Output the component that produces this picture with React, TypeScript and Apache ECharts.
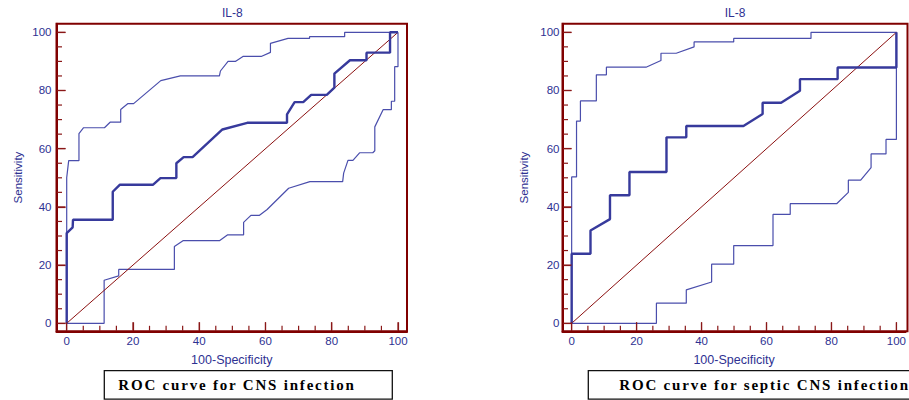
import React, { useEffect, useRef } from "react";
import * as echarts from "echarts";

// ---------- data ----------
const chartTitle = "IL-8";
const xAxisName = "100-Specificity";
const yAxisName = "Sensitivity";
const captions = ["ROC curve for CNS infection", "ROC curve for septic CNS infection"];
const majorTicks = [0, 20, 40, 60, 80, 100];
const minorTicks = [0, 5, 10, 15, 20, 25, 30, 35, 40, 45, 50, 55, 60, 65, 70, 75, 80, 85, 90, 95, 100];

const cnsRoc: number[][] = [
  [0, 0], [0, 31], [1.8, 33], [1.9, 35.6], [13.9, 35.6], [13.9, 45.2], [16, 47.6], [26, 47.6],
  [28.3, 49.9], [33.1, 49.9], [33.1, 55], [35.3, 57.1], [38, 57.1], [47, 66.6], [54.5, 68.9],
  [66.5, 68.9], [66.5, 71.8], [68.8, 76], [71.4, 76], [73.8, 78.5], [78.5, 78.5], [80.8, 81],
  [80.8, 85.8], [85.5, 90.4], [90.5, 90.4], [90.5, 93], [97.6, 93], [97.6, 100], [100, 100],
];
const cnsUpper: number[][] = [
  [0, 0], [0, 50], [0.3, 53], [0.6, 55.9], [3.7, 55.9], [3.7, 65.2], [5.1, 67.2], [11.4, 67.2],
  [13.1, 69.1], [16.3, 69.1], [16.3, 73.5], [18.5, 75.5], [20.2, 75.5], [28.4, 83.4], [34.3, 85],
  [46.1, 85], [46.4, 86.7], [48.7, 90], [50.9, 90], [53.2, 91.7], [58.7, 91.7], [61.5, 93.1],
  [61.5, 96.2], [66.8, 97.9], [73.3, 97.9], [73.3, 98.5], [83.9, 98.5], [83.9, 100], [100, 100],
];
const cnsLower: number[][] = [
  [0, 0], [11.3, 0], [11.3, 14.8], [15.7, 16.3], [15.7, 18.5], [32.5, 18.5], [32.5, 26.4],
  [35.1, 28.4], [46.1, 28.4], [48.6, 30.4], [53.4, 30.4], [53.4, 34.7], [55.6, 37.1], [58.2, 37.1],
  [60.5, 39.1], [67, 46.4], [73.4, 48.7], [83.3, 48.7], [83.6, 51.6], [84.9, 56], [86.4, 56],
  [88.4, 58.6], [92.4, 58.6], [93, 59.3], [93, 67.5], [95.5, 73.4], [98, 73.4], [98, 76.3],
  [99, 76.3], [99, 88.2], [100, 88.2], [100, 100],
];

const septicRoc: number[][] = [
  [0, 0], [0, 23.9], [5.8, 23.9], [5.8, 31.9], [11.8, 35.8], [11.8, 44], [17.8, 44], [17.8, 52],
  [29.2, 52], [29.2, 63.9], [35.3, 63.9], [35.3, 67.8], [52.9, 67.8], [58.8, 71.9], [58.8, 75.8],
  [64.5, 75.8], [70.3, 79.9], [70.3, 83.9], [81.9, 83.9], [81.9, 87.9], [100, 87.9], [100, 100],
];
const septicUpper: number[][] = [
  [0, 0], [0, 50.3], [1.5, 50.3], [1.5, 69.5], [2.7, 69.5], [2.7, 76.4], [7.6, 76.4], [7.6, 85.4],
  [10.7, 85.4], [10.7, 88], [22.9, 88], [27.5, 90.3], [27.5, 92.8], [32.2, 92.8], [37.7, 95],
  [37.7, 96.7], [49.9, 96.7], [49.9, 97.9], [73.7, 97.9], [73.7, 100], [100, 100],
];
const septicLower: number[][] = [
  [0, 0], [26.1, 0], [26.1, 6.9], [35.3, 6.9], [35.3, 11.5], [43.1, 14.2], [43.1, 20.3],
  [49.9, 20.3], [49.9, 26.7], [62, 26.7], [62, 37.4], [67.3, 37.4], [67.3, 41.1], [81.6, 41.1],
  [85.2, 45], [85.2, 49.2], [89, 49.2], [92.2, 53.5], [92.2, 58.2], [96.8, 58.2], [96.8, 63.2],
  [100, 63.2], [100, 100],
];
const diagonal: number[][] = [[0, 0], [100, 100]];

const panelsData = [
  { roc: cnsRoc, upper: cnsUpper, lower: cnsLower },
  { roc: septicRoc, upper: septicUpper, lower: septicLower },
];

// ---------- styling / layout ----------
const BLUE_TEXT = "#2e3192";
const BLUE_THICK = "#373a9c";
const BLUE_THIN = "#4a4eac";
const MAROON = "#800000";
const TICK = "#8a1818";
const DIAG = "#8b1010";

// grid = plot frame; axis extents slightly beyond 0..100 so the frame has padding
const layout = [
  {
    grid: { left: 56.5, top: 23.8, width: 350.5, height: 307.5 },
    xExtent: [-3.08, 102.72], yExtent: [-2.75, 102.92], yLabelMargin: 5,
    box: { x: 104.3, y: 370.7, width: 288, height: 28.5 },
    captionX: 118.3,
  },
  {
    grid: { left: 562.5, top: 23.8, width: 345, height: 307.5 },
    xExtent: [-2.82, 102.82], yExtent: [-2.75, 102.92], yLabelMargin: 3,
    box: { x: 588.3, y: 370.7, width: 340, height: 28.5 },
    captionX: 619.3,
  },
];

const sansFont = "'Liberation Sans', Arial, sans-serif";
const captionLetterSpacing = "1.8px";
const MAJOR_LEN = 9;
const MINOR_LEN = 5.5;

function buildGraphic(): any[] {
  const graphic: any[] = [];
  layout.forEach((l, i) => {
    graphic.push({
      id: `frame${i}`,
      type: "rect",
      shape: { x: l.grid.left, y: l.grid.top, width: l.grid.width, height: l.grid.height },
      style: { fill: "none", stroke: MAROON, lineWidth: 2 },
      z: 1,
      silent: true,
    });
    const span = l.xExtent[1] - l.xExtent[0];
    const dataLeft = l.grid.left + (-l.xExtent[0] / span) * l.grid.width;
    const dataRight = l.grid.left + ((100 - l.xExtent[0]) / span) * l.grid.width;
    graphic.push({
      id: `title${i}`,
      type: "text",
      x: (dataLeft + dataRight) / 2,
      y: 12.5,
      silent: true,
      style: {
        text: chartTitle,
        fill: BLUE_TEXT,
        font: `12px ${sansFont}`,
        align: "center",
        verticalAlign: "middle",
      },
    });
    graphic.push({
      id: `box${i}`,
      type: "rect",
      shape: { ...l.box },
      silent: true,
      style: { fill: "none", stroke: "#111", lineWidth: 1.3 },
    });
    graphic.push({
      id: `caption${i}`,
      type: "text",
      x: l.captionX,
      y: 384.5,
      silent: true,
      style: {
        text: captions[i],
        fill: "#000",
        font: `bold 15px 'Liberation Serif', 'Times New Roman', serif`,
        align: "left",
        verticalAlign: "middle",
      },
    });
  });
  return graphic;
}

function buildOption() {
  const grid = layout.map((l) => ({ ...l.grid, containLabel: false }));

  const xAxis: any[] = [];
  const yAxis: any[] = [];
  layout.forEach((l, i) => {
    xAxis.push({
      type: "value",
      gridIndex: i,
      position: "bottom",
      min: l.xExtent[0],
      max: l.xExtent[1],
      axisLine: { show: true, onZero: false, lineStyle: { color: MAROON, width: 2 } },
      axisTick: { show: true, inside: true, length: MAJOR_LEN, customValues: majorTicks, lineStyle: { color: TICK, width: 1.2 } },
      axisLabel: { show: true, customValues: majorTicks, color: BLUE_TEXT, fontSize: 11.5, margin: 4, fontFamily: sansFont },
      splitLine: { show: false },
      name: xAxisName,
      nameLocation: "middle",
      nameGap: 22,
      nameTextStyle: { color: BLUE_TEXT, fontSize: 12.5, fontFamily: sansFont },
    });
    yAxis.push({
      type: "value",
      gridIndex: i,
      position: "left",
      min: l.yExtent[0],
      max: l.yExtent[1],
      axisLine: { show: true, onZero: false, lineStyle: { color: MAROON, width: 2 } },
      axisTick: { show: true, inside: true, length: MAJOR_LEN, customValues: majorTicks, lineStyle: { color: TICK, width: 1.2 } },
      axisLabel: { show: true, customValues: majorTicks, color: BLUE_TEXT, fontSize: 11.5, margin: l.yLabelMargin, fontFamily: sansFont },
      splitLine: { show: false },
      name: yAxisName,
      nameLocation: "middle",
      nameRotate: 90,
      nameGap: 33,
      nameTextStyle: { color: BLUE_TEXT, fontSize: 11.5, fontFamily: sansFont },
    });
  });

  const series: any[] = [];
  panelsData.forEach((p, i) => {
    const base = { type: "line", xAxisIndex: i, yAxisIndex: i, symbol: "none", clip: false, silent: true };
    series.push({ ...base, name: "lower", data: p.lower, lineStyle: { color: BLUE_THIN, width: 1.2 }, z: 2 });
    series.push({ ...base, name: "upper", data: p.upper, lineStyle: { color: BLUE_THIN, width: 1.2 }, z: 2 });
    series.push({ ...base, name: "diag", data: diagonal, lineStyle: { color: DIAG, width: 1 }, z: 3 });
    series.push({ ...base, name: "roc", data: p.roc, lineStyle: { color: BLUE_THICK, width: 2.4 }, z: 4 });
  });

  return { animation: false, backgroundColor: "#fff", grid, xAxis, yAxis, series, graphic: buildGraphic() };
}

// tick marks (major and minor) positioned through the chart's own scales
function buildTicks(chart: echarts.ECharts): any[] {
  const out: any[] = [];
  layout.forEach((l, i) => {
    minorTicks.forEach((v, k) => {
      const len = majorTicks.includes(v) ? MAJOR_LEN : MINOR_LEN;
      const px = chart.convertToPixel({ gridIndex: i }, [v, l.yExtent[0]]) as number[];
      const py = chart.convertToPixel({ gridIndex: i }, [l.xExtent[0], v]) as number[];
      if (!px || !py) return;
      out.push({
        id: `xt${i}_${k}`,
        type: "line",
        silent: true,
        z: 100,
        shape: { x1: px[0], y1: px[1] - 0.5, x2: px[0], y2: px[1] - len },
        style: { stroke: TICK, lineWidth: 1.2, opacity: 1 },
      });
      out.push({
        id: `yt${i}_${k}`,
        type: "line",
        silent: true,
        z: 100,
        shape: { x1: py[0] + 0.5, y1: py[1], x2: py[0] + len, y2: py[1] },
        style: { stroke: TICK, lineWidth: 1.2, opacity: 1 },
      });
    });
  });
  return out;
}

export default function App() {
  const ref = useRef<HTMLDivElement>(null);
  useEffect(() => {
    if (!ref.current) return;
    const el = ref.current;
    const chart = echarts.init(el, undefined, { renderer: "svg" });
    chart.setOption(buildOption() as any);
    chart.setOption({ graphic: [...buildGraphic(), ...buildTicks(chart)] } as any);
    const applySpacing = () => {
      el.querySelectorAll("text").forEach((t) => {
        if (captions.includes((t.textContent || "").trim())) {
          t.setAttribute("letter-spacing", captionLetterSpacing);
          (t as SVGTextElement).style.letterSpacing = captionLetterSpacing;
        }
      });
    };
    applySpacing();
    chart.on("finished", applySpacing);
    return () => chart.dispose();
  }, []);
  return (
    <div
      ref={ref}
      style={{ position: "absolute", left: 0, top: 0, width: 909, height: 400, background: "#fff" }}
    />
  );
}
